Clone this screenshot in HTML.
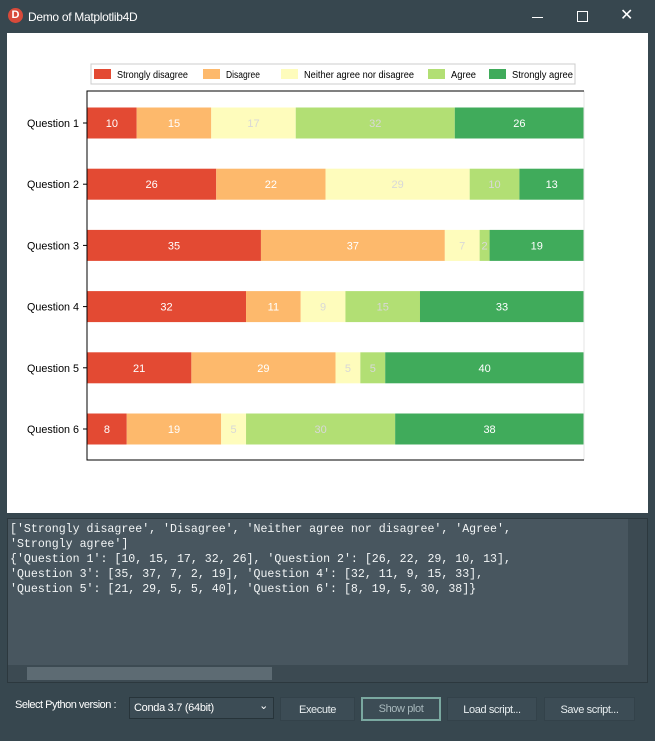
<!DOCTYPE html>
<html><head><meta charset="utf-8"><style>
body{margin:0;width:655px;height:741px;background:#37474f;font-family:"Liberation Sans",sans-serif;overflow:hidden;position:relative}
.abs{position:absolute}
.btn{position:absolute;top:697px;height:24px;background:#3c4c55;border:1px solid #33424a;color:#e8eef0;font-size:11px;letter-spacing:-0.4px;text-align:center;line-height:24px;box-sizing:border-box}
</style></head><body>
<div class="abs" style="left:0;top:0;width:655px;height:33px;background:#37474f">
 <div class="abs" style="left:8px;top:8px;width:15px;height:15px;border-radius:50%;background:#d84a3a;color:#fff;font-size:11px;font-weight:bold;text-align:center;line-height:15px">D</div>
 <div class="abs" style="left:28px;top:10px;color:#fff;font-size:12px;letter-spacing:-0.3px">Demo of Matplotlib4D</div>
 <div class="abs" style="left:532px;top:17px;width:11px;height:1px;background:#fff"></div>
 <div class="abs" style="left:577px;top:11px;width:9px;height:9px;border:1px solid #fff"></div>
 <div class="abs" style="left:620px;top:5px;color:#fff;font-size:16px">✕</div>
</div>
<div class="abs" style="left:7px;top:33px;width:641px;height:480px;background:#fff"></div>
<svg class="abs" style="left:0;top:0" width="655" height="513" id="chart"></svg>
<div class="abs" style="left:7px;top:518px;width:641px;height:165px;background:#48565f;border:1px solid #2c383e;box-sizing:border-box">
<pre style="margin:0;padding:3px 2px;color:#f2f5f6;font-family:'Liberation Mono',monospace;font-size:11.6px;line-height:15px">['Strongly disagree', 'Disagree', 'Neither agree nor disagree', 'Agree',
'Strongly agree']
{'Question 1': [10, 15, 17, 32, 26], 'Question 2': [26, 22, 29, 10, 13],
'Question 3': [35, 37, 7, 2, 19], 'Question 4': [32, 11, 9, 15, 33],
'Question 5': [21, 29, 5, 5, 40], 'Question 6': [8, 19, 5, 30, 38]}</pre>
 <div class="abs" style="left:620px;top:0;width:19px;height:146px;background:#3c4a52"></div>
 <div class="abs" style="left:0;top:146px;width:639px;height:17px;background:#3c4a52"><div style="position:absolute;left:19px;top:2px;width:245px;height:13px;background:#5d6b73"></div></div>
</div>
<div class="abs" style="left:15px;top:699px;color:#fff;font-size:11px;letter-spacing:-0.5px">Select Python version :</div>
<div class="abs" style="left:129px;top:697px;width:145px;height:22px;background:#3c4c55;border:1px solid #27343a;box-sizing:border-box;color:#fff;font-size:11px;letter-spacing:-0.3px;line-height:20px;padding-left:4px">Conda 3.7 (64bit)<span style="position:absolute;right:5px;top:-2px">⌄</span></div>
<div class="btn" style="left:280px;width:75px">Execute</div>
<div class="btn" style="left:361px;width:80px;border:2px solid #7aa8a0;color:#a8b8bc;line-height:21px">Show plot</div>
<div class="btn" style="left:447px;width:90px">Load script...</div>
<div class="btn" style="left:544px;width:91px">Save script...</div>
<script>
const categories=['Question 1','Question 2','Question 3','Question 4','Question 5','Question 6'];
const seriesNames=['Strongly disagree','Disagree','Neither agree nor disagree','Agree','Strongly agree'];
const q1=[10,15,17,32,26];
const q2=[26,22,29,10,13];
const q3=[35,37,7,2,19];
const q4=[32,11,9,15,33];
const q5=[21,29,5,5,40];
const q6=[8,19,5,30,38];
const rows=[q1,q2,q3,q4,q5,q6];
const colors=['#e34a33','#fdb96c','#fefcbc','#b2df74','#40ab5b'];
const ns='http://www.w3.org/2000/svg';
const svg=document.getElementById('chart');
const X0=87,X1=584,Y0=91,Y1=460;
let maxTot=Math.max(...rows.map(r=>r.reduce((a,b)=>a+b,0)));
const xs=v=>X0+v/maxTot*(X1-X0);
const yc=i=>123+i*61.2;
function mk(t,a){const e=document.createElementNS(ns,t);for(const k in a)e.setAttribute(k,a[k]);svg.appendChild(e);return e;}
rows.forEach((r,i)=>{let c=0;
 const lab=mk('text',{x:X0-8,y:yc(i)+4,'text-anchor':'end','font-size':'11','fill':'#000','font-family':'Liberation Sans, sans-serif',textLength:52,lengthAdjust:'spacingAndGlyphs'});
 
 
 lab.textContent=categories[i];
 const tk=mk('line',{x1:X0-4,x2:X0,y1:yc(i),y2:yc(i),stroke:'#000'});
 
 
 r.forEach((v,j)=>{
  const b=mk('rect',{x:xs(c),y:yc(i)-15.5,width:xs(c+v)-xs(c),height:31,fill:colors[j]});
  
  
  const t=mk('text',{x:(xs(c)+xs(c+v))/2,y:yc(i)+4,'text-anchor':'middle','font-size':'11',fill:(j==2||j==3)?'#d8d8d8':'#fff','font-family':'Liberation Sans, sans-serif'});
  
  
  t.textContent=v;c+=v;});
});
const rs=mk('line',{x1:X1,x2:X1,y1:Y0,y2:Y1,stroke:'#e6e6e6'});


const ax=mk('path',{d:`M${X1},${Y0}H${X0}V${Y1}H${X1}`,fill:'none',stroke:'#000','stroke-width':1});


const lg=mk('rect',{x:91,y:64,width:484,height:20,fill:'#fff',stroke:'#ccc'});


const lx=[94,203,281,428,489];
const lw=[71,34,110,25,61];
seriesNames.forEach((n,j)=>{
 const s=mk('rect',{x:lx[j],y:69,width:17,height:10,fill:colors[j]});
 
 
 const t=mk('text',{x:lx[j]+23,y:78,'font-size':'10','fill':'#000','font-family':'Liberation Sans, sans-serif',textLength:lw[j],lengthAdjust:'spacingAndGlyphs'});
 
 
 t.textContent=n;});
</script>
</body></html>
